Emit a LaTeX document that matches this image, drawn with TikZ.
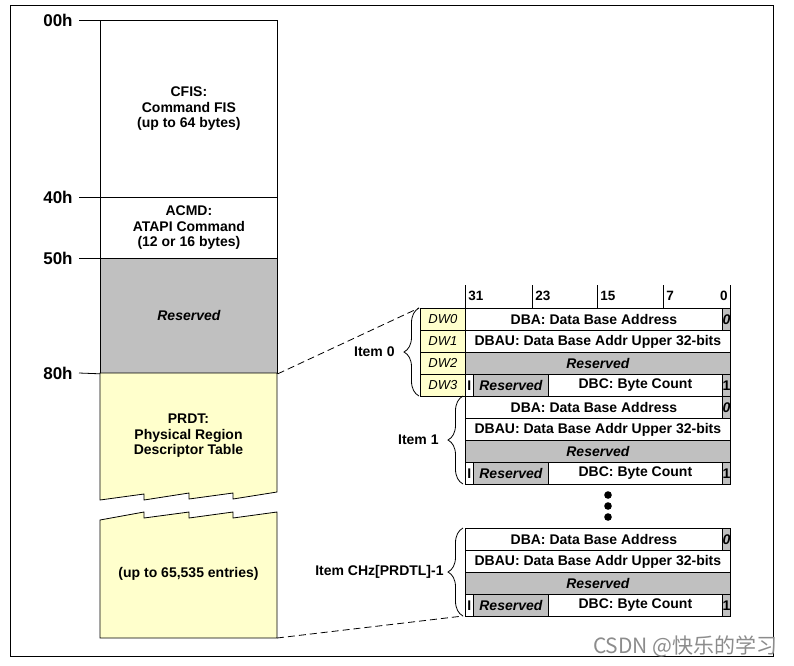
\documentclass[tikz,border=0pt]{standalone}
\usepackage{fontspec}
\setmainfont{Liberation Sans}
\newfontfamily\cjkfont{Noto Sans CJK SC}
\usetikzlibrary{decorations.pathreplacing}

\definecolor{prdtyellow}{HTML}{FFFFCC}
\definecolor{rsvgray}{HTML}{C0C0C0}
\newcommand{\bodyfont}{\fontsize{14}{15.5}\selectfont\bfseries}

\begin{document}
\begin{tikzpicture}[x=1pt, y=-1pt, line width=0.8pt,
        every node/.style={font=\bodyfont, inner sep=0pt},
        cell/.style={draw, anchor=north west, minimum height=22pt},
        gcell/.style={cell, fill=rsvgray},
        rsvtext/.style={font=\bodyfont\itshape},
        addr/.style={font=\fontsize{17}{19}\selectfont\bfseries, anchor=east},
        dw/.style={cell, fill=prdtyellow, minimum width=45pt, font=\fontsize{13}{15}\selectfont\itshape},
        brc/.style={decorate, decoration={brace, amplitude=15pt}}]
    \useasboundingbox (0,0) rectangle (794,665);
    \draw (10,5) rectangle (773,656);

    % command table column
    \node[cell, minimum width=177pt, minimum height=177pt, align=center] (cfis) at (100,20) {CFIS:\\Command FIS\\(up to 64 bytes)};
    \node[cell, minimum width=177pt, minimum height=61pt, align=center] (acmd) at (100,197) {ACMD:\\ATAPI Command\\(12 or 16 bytes)};
    \node[gcell, minimum width=177pt, minimum height=115pt, rsvtext] (rsv) at (100,258) {Reserved};

    \filldraw[fill=prdtyellow] (100,373) -- (277,373) -- (277,492) -- (233,499) -- (233,493) -- (189,499)
        -- (189,493) -- (144,500) -- (144,494) -- (100,500) -- cycle;
    \node[align=center] (prdt) at (188.5,436) {PRDT:\\Physical Region\\Descriptor Table};
    \filldraw[fill=prdtyellow] (100,520) -- (144,512) -- (144,518) -- (189,512) -- (189,518) -- (233,512)
        -- (233,518) -- (277,512) -- (277,638) -- (100,638) -- cycle;
    \node (entries) at (188.5,574) {(up to 65,535 entries)};
    \coordinate (prdtend) at (277,638);

    \node[addr] (a00) at (73,20)  {00h};
    \node[addr] (a40) at (73,197) {40h};
    \node[addr] (a50) at (73,258) {50h};
    \node[addr] (a80) at (73,373) {80h};
    \draw ([xshift=6pt]a00.east) -- (cfis.north west);
    \draw ([xshift=6pt]a40.east) -- (acmd.north west);
    \draw ([xshift=6pt]a50.east) -- (rsv.north west);
    \draw ([xshift=6pt]a80.east) -- (rsv.south west);

    % bit positions
    \foreach \x/\b in {465/31, 532/23, 597/15, 663/7} {
        \draw (\x,285) -- (\x,308);
        \node[anchor=west, font=\fontsize{13.5}{15}\selectfont\bfseries] (bit\b) at (\x+3,296) {\b};
    }
    \draw (730,285) -- (730,308);
    \node[anchor=east, font=\fontsize{13.5}{15}\selectfont\bfseries] (bit0) at (728,296) {0};

    % PRD items
    \foreach \k in {0,...,3}
        \node[dw] (dw\k) at (420,308+22*\k) {DW\k};
    \foreach \n/\y in {i0/308, i1/396, i2/528} {
        \node[cell, minimum width=257pt] (\n-dba) at (465,\y) {DBA: Data Base Address};
        \node[gcell, minimum width=8pt, rsvtext] (\n-zero) at (722,\y) {0};
        \node[cell, minimum width=265pt] (\n-dbau) at (465,\y+22) {DBAU: Data Base Addr Upper 32-bits};
        \node[gcell, minimum width=265pt, rsvtext] (\n-rsv) at (465,\y+44) {Reserved};
        \node[cell, minimum width=8pt] (\n-ioc) at (465,\y+66) {I};
        \node[gcell, minimum width=75pt, rsvtext] (\n-rsvb) at (473,\y+66) {Reserved};
        \node[cell, minimum width=174pt] (\n-dbc) at (548,\y+66) {DBC: Byte Count};
        \node[gcell, minimum width=8pt] (\n-one) at (722,\y+66) {1};
    }

    \coordinate (b0top) at (419,308);
    \coordinate (b0bot) at (419,396);
    \coordinate (b1top) at (463,396);
    \coordinate (b1bot) at (463,484);
    \coordinate (b2top) at (463,528);
    \coordinate (b2bot) at (463,616);
    \draw[brc] (b0bot) -- (b0top);
    \draw[brc] (b1bot) -- (b1top);
    \draw[brc] (b2bot) -- (b2top);
    \node[anchor=east] (item0) at (395,352) {Item 0};
    \node[anchor=east] (item1) at (439,440) {Item 1};
    \node[anchor=east] (itemn) at (444,572) {Item CHz[PRDTL]-1};

    \foreach \y in {495,506,517}
        \fill (608,\y) circle (3.8pt);

    \draw[dashed, dash pattern=on 7pt off 4pt] (rsv.south east) -- (b0top);
    \draw[dashed, dash pattern=on 7pt off 4pt] (prdtend) -- (b2bot);

    \node[anchor=east, font=\cjkfont\fontsize{21}{23}\selectfont, text=black!45] (mark) at (778,646) {CSDN @快乐的学习};
\end{tikzpicture}
\end{document}
